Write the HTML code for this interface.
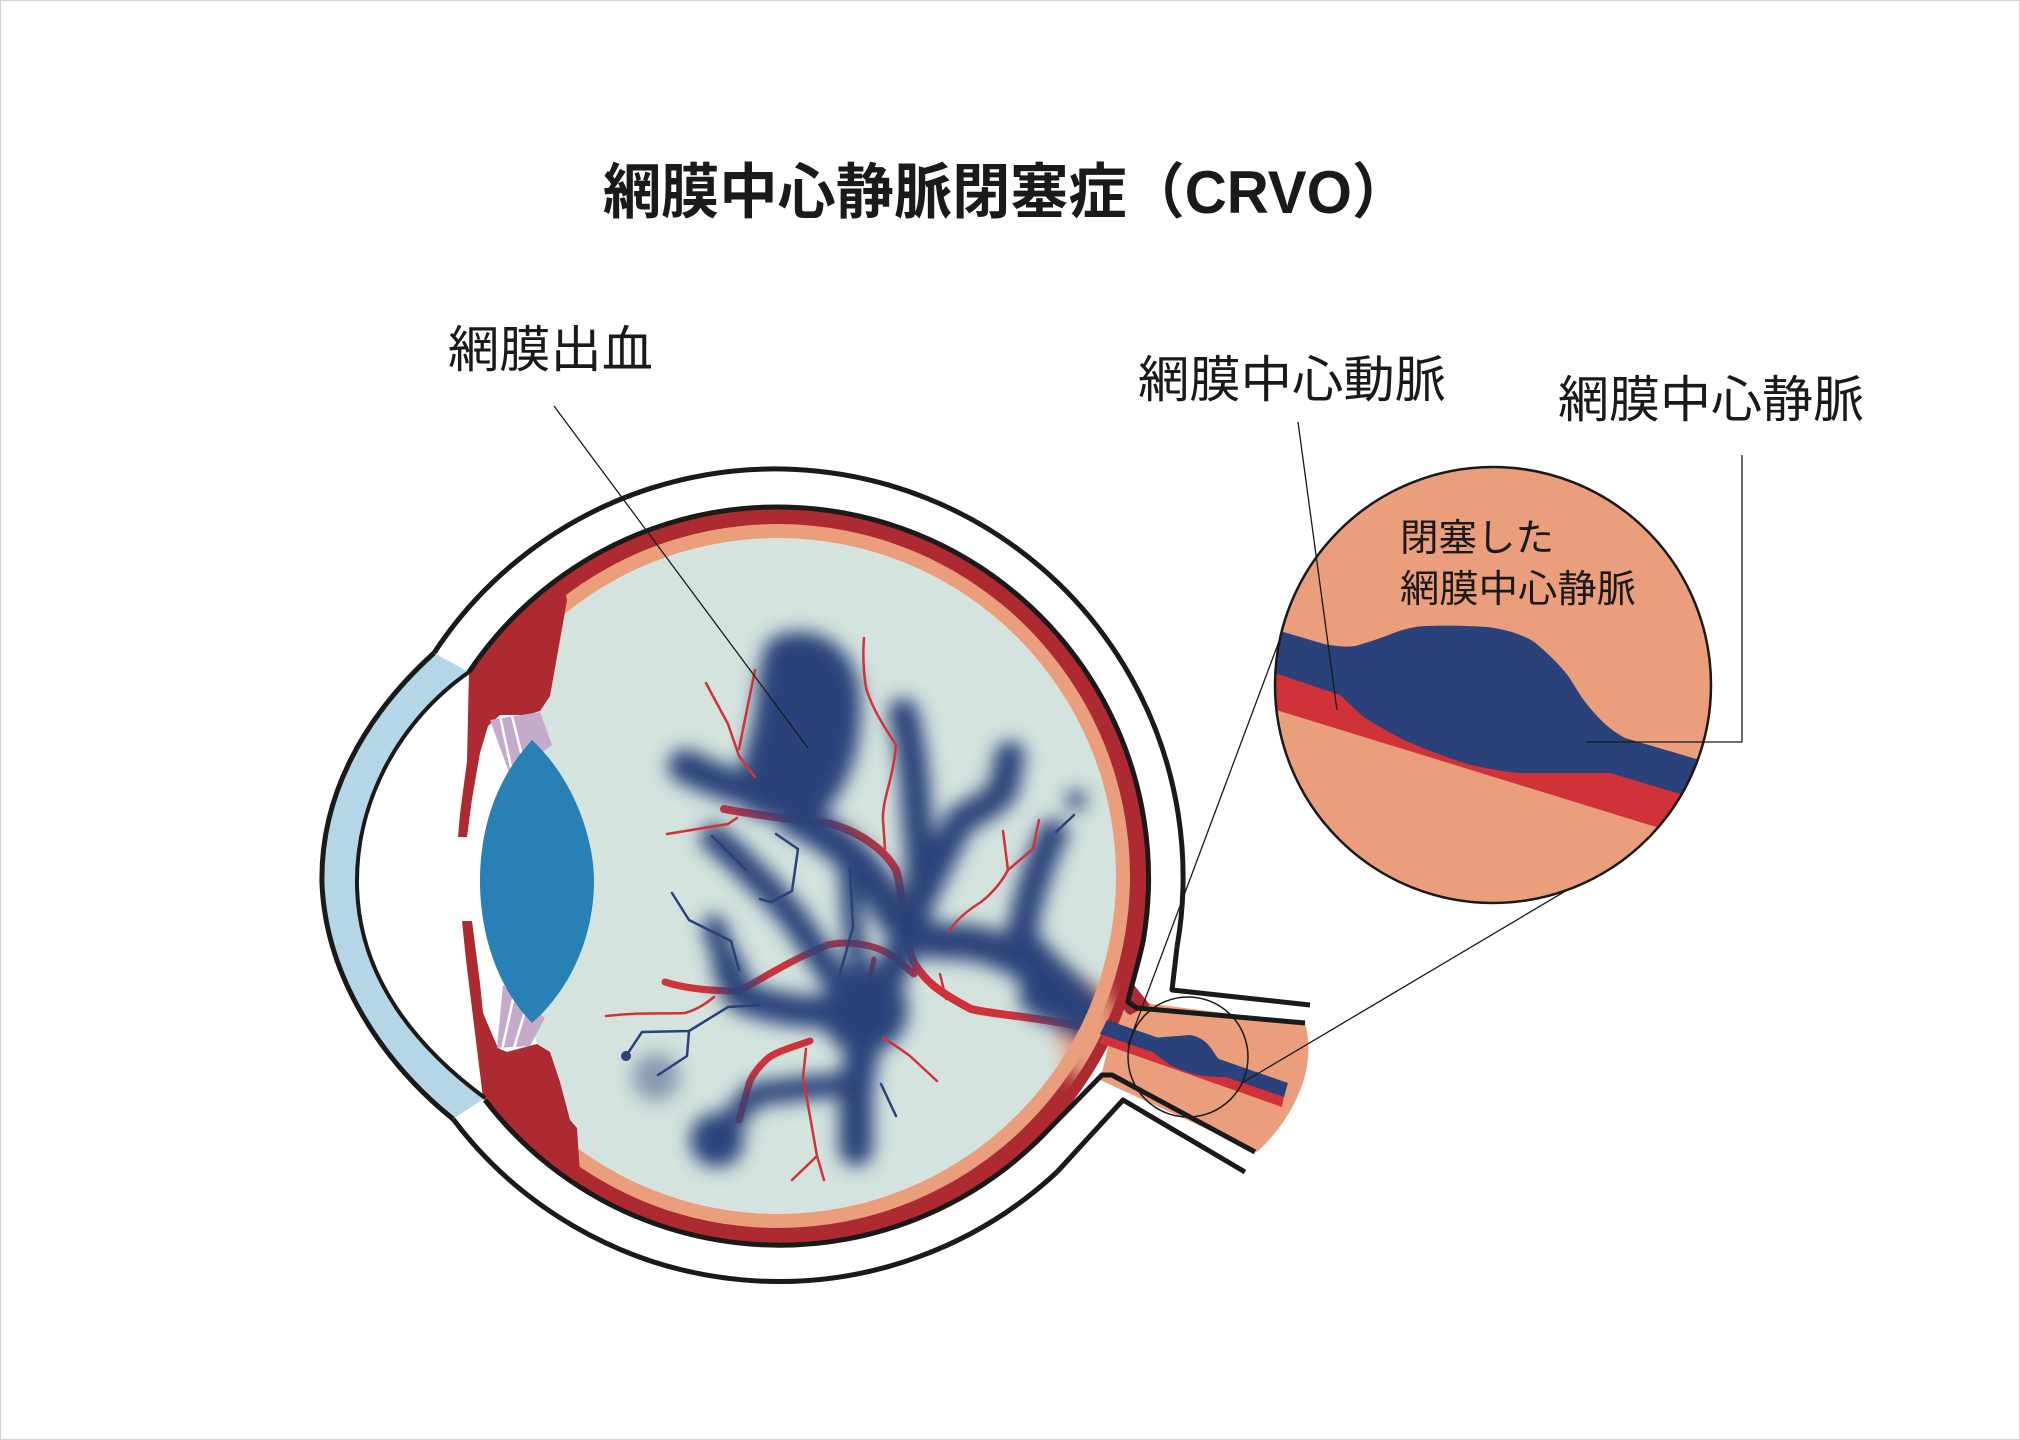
<!DOCTYPE html>
<html><head><meta charset="utf-8"><style>
html,body{margin:0;padding:0;background:#fff;}
svg{display:block;}
text{font-family:"Liberation Sans","Noto Sans CJK JP",sans-serif;}
</style></head><body>
<svg width="2020" height="1440" viewBox="0 0 2020 1440" xmlns="http://www.w3.org/2000/svg">
<defs>
<filter id="blur" x="-20%" y="-20%" width="140%" height="140%"><feGaussianBlur stdDeviation="9"/></filter>
<filter id="blur2" x="-50%" y="-50%" width="200%" height="200%"><feGaussianBlur stdDeviation="10"/></filter>
<clipPath id="vit"><circle cx="778" cy="876" r="338"/></clipPath>
<clipPath id="ret"><circle cx="778" cy="876" r="360"/></clipPath>
<clipPath id="big"><circle cx="1493" cy="685" r="218"/></clipPath>
<clipPath id="rightx"><rect x="535" y="0" width="1500" height="1440"/></clipPath>
<clipPath id="rightv"><rect x="470" y="0" width="1500" height="1440"/></clipPath>
</defs>
<rect x="0.5" y="0.5" width="2019" height="1439" fill="#fff" stroke="#d0d0d0" stroke-width="1"/>

<text x="603" y="213" font-size="60" font-weight="bold" fill="#1a1a1a" textLength="807" lengthAdjust="spacingAndGlyphs">網膜中心静脈閉塞症（CRVO）</text>

<text x="448" y="367" font-size="50" fill="#1a1a1a" textLength="205" lengthAdjust="spacingAndGlyphs">網膜出血</text>
<text x="1138" y="397" font-size="50" fill="#1a1a1a" textLength="308" lengthAdjust="spacingAndGlyphs">網膜中心動脈</text>
<text x="1558" y="417" font-size="50" fill="#1a1a1a" textLength="306" lengthAdjust="spacingAndGlyphs">網膜中心静脈</text>

<!-- nerve salmon -->
<path d="M1120 1000 L1305 1023 C1318 1070 1292 1120 1257 1152 L1100 1080 Z" fill="#eb9e7c"/>

<!-- choroid / retina / vitreous -->
<g clip-path="url(#rightx)">
<circle cx="778" cy="876" r="371" fill="#ad2a31"/>
<circle cx="778" cy="876" r="352" fill="#eb9e7c"/>
</g>
<circle cx="778" cy="876" r="338" fill="#d4e3de" clip-path="url(#rightv)"/>
<g clip-path="url(#ret)">
<ellipse cx="1090" cy="1035" rx="30" ry="50" fill="#eb9e7c" filter="url(#blur2)"/>
</g>
<path d="M1130 980 C1122 1000 1120 1010 1130 1015 L1150 1005 Z" fill="#ad2a31"/>

<!-- white posterior chamber left of lens -->
<path d="M462 700 L540 711 L532 740 C495 780 480 830 480 881 C480 930 495 985 532 1023 L537 1044 L470 1060 Z" fill="#fff"/>

<!-- ciliary body -->
<path d="M469 671 A371 371 0 0 1 561 575 L567 600 L563 623 L550 696 L540 711 L527 715 L500 715 L488 726 L480 753 L472 799 L467 837 L458 837 L460 814 L467 761 Z" fill="#ad2a31"/>
<path d="M483 1098 A371 371 0 0 0 581 1190 L580 1174 L577 1128 L570 1120 L560 1082 L550 1052 L537 1044 L507 1052 L498 1048 L483 1013 L480 983 L472 921 L462 921 L466 960 Z" fill="#ad2a31"/>
<!-- zonules -->
<path d="M490 720 L540 712 L552 745 L510 775 Z" fill="#c4aacb"/>
<path d="M497 1048 L530 1046 L545 1018 L503 985 Z" fill="#c4aacb"/>
<g stroke="#fff" stroke-width="2.5">
<line x1="500" y1="716" x2="512" y2="772"/><line x1="512" y1="716" x2="524" y2="764"/>
<line x1="502" y1="1050" x2="514" y2="995"/><line x1="514" y1="1048" x2="527" y2="1005"/>
</g>
<!-- lens -->
<path d="M532 740 C575 780 594 840 594 881 C594 930 575 985 532 1023 C495 985 480 930 480 881 C480 830 495 780 532 740 Z" fill="#2980b5"/>

<!-- cornea -->
<path d="M434 653 C360 720 320 800 322 884 C326 975 380 1060 453 1119 L485 1098 C420 1050 358 980 357 884 C356 800 400 720 469 672 Z" fill="#b5d6e6"/>
<path d="M434 653 C360 720 320 800 322 884 C326 975 380 1060 453 1119" fill="none" stroke="#1a1a1a" stroke-width="5"/>
<path d="M485 1098 C420 1050 358 980 357 884 C356 800 400 720 469 672" fill="none" stroke="#1a1a1a" stroke-width="4"/>

<!-- vessels -->
<g clip-path="url(#vit)" fill="none" stroke-linecap="round" stroke-linejoin="round">
<path d="M724 809 C760 816 800 820 831 824 C860 832 885 850 896 870 C905 900 900 930 914 963 C925 980 935 990 971 1009 C1000 1016 1042 1016 1114 1034" stroke="#d1323a" stroke-width="8"/>
<path d="M665 982 C690 990 720 991 739 991 C760 980 790 960 828 945 C850 940 880 945 896 959 L914 974" stroke="#d1323a" stroke-width="7"/>
<path d="M874 959 L864 1008" stroke="#d1323a" stroke-width="5"/>
<path d="M810 1041 C790 1048 775 1052 767 1059 C755 1070 750 1080 749 1084 L739 1120" stroke="#d1323a" stroke-width="7"/>

<g filter="url(#blur)" stroke="#2a4279">
<path d="M778 650 C800 638 835 645 846 684 C852 720 842 760 839 763 C830 790 815 806 810 806 L760 805 C750 780 755 760 765 730 C770 700 770 670 778 650 Z" fill="#2a4279" stroke-width="26"/>
<path d="M685 766 C710 778 739 790 803 806" stroke-width="34"/>
<path d="M792 816 C820 830 853 849 881 891 C893 920 903 931 935 941 C960 941 989 941 1024 963 C1050 980 1067 999 1114 1027" stroke-width="36"/>
<path d="M903 713 C910 740 914 763 917 820 C920 850 924 870 914 924" stroke-width="30"/>
<path d="M1010 756 L1003 791 C990 805 970 815 960 820 C950 840 940 860 935 870 L914 913" stroke-width="30"/>
<path d="M1053 834 C1040 860 1031 888 1021 934 C1030 950 1042 963 1078 995" stroke-width="30"/>
<path d="M914 924 C900 960 880 990 864 1013 C864 1040 860 1070 856 1084 L856 1149" stroke-width="34"/>
<path d="M717 1138 L753 1095 C780 1090 810 1088 846 1084" stroke-width="24"/>
<path d="M728 966 L739 995 C760 1005 792 1013 846 1013" stroke-width="32"/>
<path d="M714 927 L728 966" stroke-width="24"/>
<path d="M714 838 C730 850 756 877 756 877 C770 890 792 916 792 916 C810 940 831 977 864 1013" stroke-width="28"/>
<path d="M849 870 L853 927 L864 1000" stroke-width="20"/>
<path d="M1042 995 L1120 1031" stroke-width="46"/>
<circle cx="717" cy="1140" r="27" fill="#2a4279" stroke="none"/>
<circle cx="864" cy="1010" r="44" fill="#2a4279" stroke="none"/>
<circle cx="1076" cy="800" r="10" fill="#2a4279" stroke="none"/>
<circle cx="656" cy="1077" r="24" fill="#2a4279" stroke="none" opacity="0.45"/>
</g>

<g stroke="#d1323a" stroke-width="2.5">
<path d="M706 683 C715 700 728 724 728 724 L739 756 L755 777"/>
<path d="M755 670 L739 749"/>
<path d="M667 834 L728 824 L737 818"/>
<path d="M864 638 C862 660 865 685 867 691 C875 715 890 735 896 745 C893 780 882 800 883 820 L885 849"/>
<path d="M1039 820 L1033 849 L1008 870 L1003 831"/>
<path d="M1008 870 C1000 885 990 895 981 902 C965 912 955 922 949 931"/>
<path d="M940 974 L946 999"/>
<path d="M606 1016 C640 1012 665 1014 685 1013 C695 1010 703 1006 714 997"/>
<path d="M806 1049 L803 1077 L817 1156 L824 1180 M817 1156 L792 1180"/>
<path d="M883 1038 C895 1045 910 1056 910 1056 L937 1081"/>
</g>
<g stroke="#2a4279" stroke-width="2.5">
<path d="M776 834 L798 849 L792 891 L771 902 L760 899"/>
<path d="M712 836 L746 870"/>
<path d="M672 893 L689 920 L731 941 L739 970"/>
<path d="M850 870 L853 927 L839 977"/>
<path d="M760 1005 L728 1007 L689 1031 L642 1032 L626 1056 M689 1031 L687 1056 L658 1075"/>
<path d="M1074 815 L1056 832"/>
<path d="M881 1084 L896 1116"/>
</g>
<circle cx="626" cy="1056" r="5" fill="#2a4279"/>
</g>

<!-- optic nerve vessels -->
<path d="M1100 1043 L1107 1025 L1285 1090 L1282 1107 Z" fill="#d1323a"/>
<path d="M1100 1034 L1107 1020 L1288 1083 L1284 1097 Z" fill="#2a4279"/>
<path d="M1145 1040 C1150 1038 1163 1037 1190 1035 C1207 1038 1212 1050 1217 1057 C1222 1064 1228 1068 1232 1070 L1223 1077 C1210 1077 1197 1075 1197 1075 C1185 1072 1170 1065 1170 1065 L1150 1050 Z" fill="#2a4279"/>

<!-- outlines -->
<path d="M1177 947 A408 408 0 0 0 434 653" fill="none" stroke="#1a1a1a" stroke-width="5"/>
<path d="M453 1119 A408 408 0 0 0 1057 1172" fill="none" stroke="#1a1a1a" stroke-width="5"/>
<path d="M1177 947 L1172 990 L1310 1005" fill="none" stroke="#1a1a1a" stroke-width="5" stroke-linejoin="round"/>
<path d="M1057 1172 L1123 1100 L1245 1172" fill="none" stroke="#1a1a1a" stroke-width="5" stroke-linejoin="round"/>
<path d="M469 672 A371 371 0 0 1 1143 942 C1138 965 1130 990 1128 1002 L1137 1008 L1305 1023" fill="none" stroke="#1a1a1a" stroke-width="5" stroke-linejoin="round"/>
<path d="M485 1100 A371 371 0 0 0 1050 1128 L1102 1075 L1112 1075 L1255 1152" fill="none" stroke="#1a1a1a" stroke-width="5" stroke-linejoin="round"/>

<circle cx="1188" cy="1057" r="60" fill="none" stroke="#1a1a1a" stroke-width="1.5"/>
<line x1="1281" y1="636" x2="1128" y2="1045" stroke="#1a1a1a" stroke-width="1.3"/>
<line x1="1574" y1="886" x2="1242" y2="1083" stroke="#1a1a1a" stroke-width="1.3"/>

<circle cx="1493" cy="685" r="218" fill="#eb9e7c"/>
<g clip-path="url(#big)">
<path d="M1260 666 L1690 794 L1666 830 L1260 705 Z" fill="#d1323a"/>
<path d="M1260 625 L1324 644 C1340 647 1350 647 1355 646 C1370 642 1380 638 1386 636 C1400 630 1415 626 1427 626 C1450 625 1470 626 1488 627 C1510 630 1530 637 1539 646 C1552 657 1562 668 1569 677 C1577 690 1583 700 1590 708 C1600 720 1610 730 1625 738 L1720 766 L1700 800 L1610 773 C1580 773 1550 773 1518 773 C1500 771 1485 768 1467 764 C1445 757 1425 749 1406 741 C1390 733 1375 724 1365 718 C1355 710 1348 702 1340 695 L1260 668 Z" fill="#2a4279"/>
</g>
<circle cx="1493" cy="685" r="218" fill="none" stroke="#1a1a1a" stroke-width="2.5"/>
<text x="1400" y="551" font-size="38" fill="#1a1a1a" textLength="154" lengthAdjust="spacingAndGlyphs">閉塞した</text>
<text x="1400" y="602" font-size="38" fill="#1a1a1a" textLength="236" lengthAdjust="spacingAndGlyphs">網膜中心静脈</text>

<line x1="554" y1="406" x2="808" y2="748" stroke="#1a1a1a" stroke-width="1.3"/>
<line x1="1298" y1="422" x2="1337" y2="710" stroke="#1a1a1a" stroke-width="1.3"/>
<polyline points="1742,455 1742,742 1587,742" fill="none" stroke="#1a1a1a" stroke-width="1.3"/>
</svg>
</body></html>
